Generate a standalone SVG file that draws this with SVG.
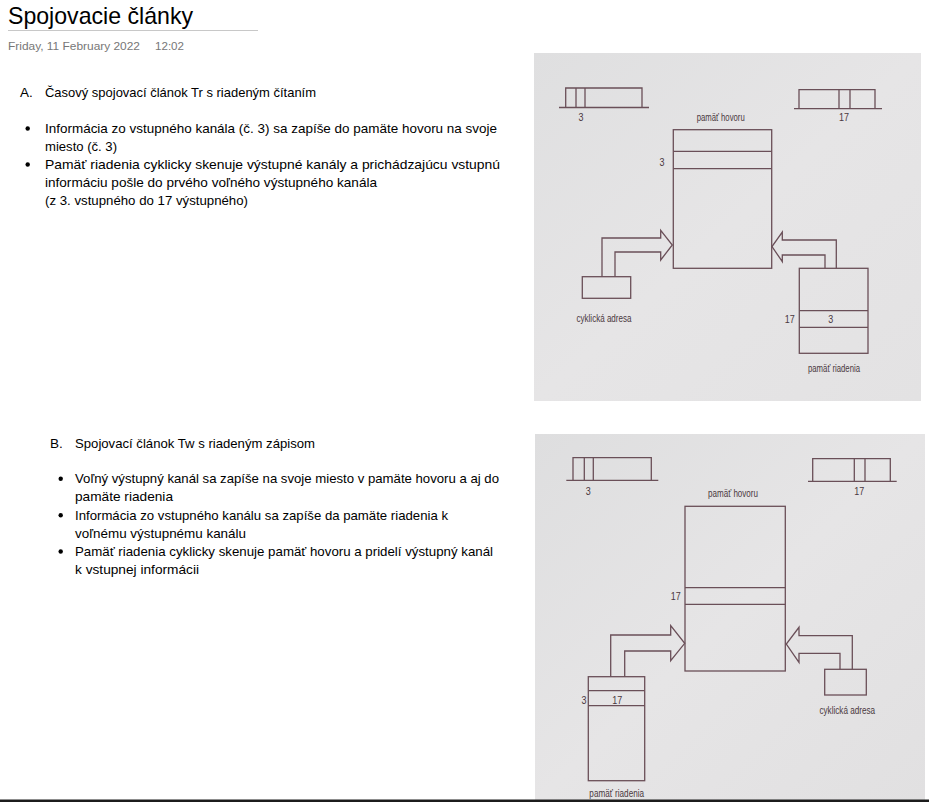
<svg xmlns="http://www.w3.org/2000/svg" width="929" height="802" viewBox="0 0 929 802">
<style>
.t{font-family:"Liberation Sans",Arial,sans-serif;fill:#000;}
.b{font-size:13.5px;}
.d{font-size:10.5px;fill:#777;}
.p{font-family:"Liberation Sans",Arial,sans-serif;font-size:10.5px;fill:#4a3840;text-anchor:middle;}
.ln{fill:none;stroke:#6a4f58;stroke-width:1.3;}
.bul{fill:#000;}
.photo{stroke:none;}
</style>
<defs>
<linearGradient id="gA" x1="0" y1="0" x2="1" y2="1">
<stop offset="0" stop-color="#dfdfe0"/><stop offset="0.5" stop-color="#e6e5e6"/><stop offset="1" stop-color="#e3e2e3"/>
</linearGradient>
<linearGradient id="gB" x1="0" y1="0" x2="1" y2="1">
<stop offset="0" stop-color="#dededf"/><stop offset="0.5" stop-color="#e6e5e6"/><stop offset="1" stop-color="#e1e0e1"/>
</linearGradient>
</defs>
<rect width="929" height="802" fill="#fff"/>

<g id="header">
<text class="t" x="8" y="24" font-size="24" textLength="185" lengthAdjust="spacingAndGlyphs">Spojovacie články</text>
<line x1="8" y1="30.5" x2="258" y2="30.5" stroke="#c8c8c8" stroke-width="1"/>
<text class="t d" x="8" y="50" textLength="132" lengthAdjust="spacingAndGlyphs">Friday, 11 February 2022</text>
<text class="t d" x="155" y="50" textLength="29" lengthAdjust="spacingAndGlyphs">12:02</text>
</g>

<g id="textA">
<text class="t b" x="20" y="96.5">A.</text>
<text class="t b" x="45" y="96.5" textLength="271" lengthAdjust="spacingAndGlyphs">Časový spojovací článok Tr s riadeným čítaním</text>
<circle class="bul" cx="27.7" cy="128.5" r="2.2"/>
<text class="t b" x="45" y="133" textLength="452" lengthAdjust="spacingAndGlyphs">Informácia zo vstupného kanála (č. 3) sa zapíše do pamäte hovoru na svoje</text>
<text class="t b" x="45" y="151" textLength="72" lengthAdjust="spacingAndGlyphs">miesto (č. 3)</text>
<circle class="bul" cx="27.7" cy="164.5" r="2.2"/>
<text class="t b" x="45" y="169" textLength="455" lengthAdjust="spacingAndGlyphs">Pamäť riadenia cyklicky skenuje výstupné kanály a prichádzajúcu vstupnú</text>
<text class="t b" x="45" y="187" textLength="332" lengthAdjust="spacingAndGlyphs">informáciu pošle do prvého voľného výstupného  kanála</text>
<text class="t b" x="45" y="205" textLength="203" lengthAdjust="spacingAndGlyphs">(z 3. vstupného do 17 výstupného)</text>
</g>

<g id="textB">
<text class="t b" x="50" y="448">B.</text>
<text class="t b" x="75" y="448" textLength="240" lengthAdjust="spacingAndGlyphs">Spojovací článok Tw s riadeným zápisom</text>
<circle class="bul" cx="60.7" cy="478.8" r="2.2"/>
<text class="t b" x="75" y="483" textLength="424" lengthAdjust="spacingAndGlyphs">Voľný výstupný kanál sa zapíše na svoje miesto v pamäte hovoru a aj do</text>
<text class="t b" x="75" y="501" textLength="98" lengthAdjust="spacingAndGlyphs">pamäte riadenia</text>
<circle class="bul" cx="60.7" cy="515.3" r="2.2"/>
<text class="t b" x="75" y="519.5" textLength="373" lengthAdjust="spacingAndGlyphs">Informácia zo vstupného kanálu sa zapíše da pamäte riadenia k</text>
<text class="t b" x="75" y="537.5" textLength="171" lengthAdjust="spacingAndGlyphs">voľnému výstupnému kanálu</text>
<circle class="bul" cx="60.7" cy="551.5" r="2.2"/>
<text class="t b" x="75" y="556" textLength="418" lengthAdjust="spacingAndGlyphs">Pamäť riadenia cyklicky skenuje pamäť hovoru a pridelí výstupný kanál</text>
<text class="t b" x="75" y="574" textLength="124" lengthAdjust="spacingAndGlyphs">k vstupnej informácii</text>
</g>

<!-- Photo A -->
<rect class="photo" x="534" y="53" width="387" height="348" fill="url(#gA)"/>
<g id="A-inputRegister">
<polyline class="ln" points="565.7,107.5 565.7,88 642,88 642,107.5"/>
<line class="ln" x1="559" y1="107.5" x2="649" y2="107.5"/>
<line class="ln" x1="576" y1="88" x2="576" y2="107.5"/>
<line class="ln" x1="585" y1="88" x2="585" y2="107.5"/>
<text class="p" x="581" y="121" textLength="5" lengthAdjust="spacingAndGlyphs">3</text>
</g>
<g id="A-outputRegister">
<polyline class="ln" points="799,108.7 799,89.7 875,89.7 875,108.7"/>
<line class="ln" x1="794" y1="108.7" x2="882" y2="108.7"/>
<line class="ln" x1="839" y1="89.7" x2="839" y2="108.7"/>
<line class="ln" x1="850" y1="89.7" x2="850" y2="108.7"/>
<text class="p" x="844" y="121" textLength="10" lengthAdjust="spacingAndGlyphs">17</text>
</g>
<g id="A-pamatHovoru">
<text class="p" x="720.7" y="121" textLength="48" lengthAdjust="spacingAndGlyphs">pamäť hovoru</text>
<rect class="ln" x="673.3" y="129.7" width="98.4" height="138.6"/>
<line class="ln" x1="673.3" y1="151.3" x2="771.7" y2="151.3"/>
<line class="ln" x1="673.3" y1="168.7" x2="771.7" y2="168.7"/>
<text class="p" x="662" y="165.5" textLength="5" lengthAdjust="spacingAndGlyphs">3</text>
</g>
<g id="A-cyklickaAdresa">
<rect class="ln" x="582.3" y="276.7" width="48.4" height="21.6"/>
<text class="p" x="604" y="321.5" textLength="55" lengthAdjust="spacingAndGlyphs">cyklická adresa</text>
</g>
<g id="A-pamatRiadenia">
<rect class="ln" x="799.3" y="268.3" width="68.7" height="85"/>
<line class="ln" x1="799.3" y1="310.7" x2="868" y2="310.7"/>
<line class="ln" x1="799.3" y1="327.3" x2="868" y2="327.3"/>
<text class="p" x="789.7" y="322.5" textLength="10" lengthAdjust="spacingAndGlyphs">17</text>
<text class="p" x="830.7" y="322.5" textLength="5" lengthAdjust="spacingAndGlyphs">3</text>
<text class="p" x="834" y="372" textLength="52" lengthAdjust="spacingAndGlyphs">pamäť riadenia</text>
</g>

<!-- Photo B -->
<rect class="photo" x="535" y="434" width="390" height="368" fill="url(#gB)"/>
<g id="B-inputRegister">
<polyline class="ln" points="573,480.3 573,457.7 651.3,457.7 651.3,480.3"/>
<line class="ln" x1="566.3" y1="480.3" x2="658.3" y2="480.3"/>
<line class="ln" x1="584.3" y1="457.7" x2="584.3" y2="480.3"/>
<line class="ln" x1="593.3" y1="457.7" x2="593.3" y2="480.3"/>
<text class="p" x="588.3" y="495" textLength="5" lengthAdjust="spacingAndGlyphs">3</text>
</g>
<g id="B-outputRegister">
<polyline class="ln" points="812.7,481.3 812.7,458.7 890.3,458.7 890.3,481.3"/>
<line class="ln" x1="808" y1="481.3" x2="896.7" y2="481.3"/>
<line class="ln" x1="854.3" y1="458.7" x2="854.3" y2="481.3"/>
<line class="ln" x1="865" y1="458.7" x2="865" y2="481.3"/>
<text class="p" x="859.3" y="495" textLength="10" lengthAdjust="spacingAndGlyphs">17</text>
</g>
<g id="B-pamatHovoru">
<text class="p" x="733" y="497" textLength="50" lengthAdjust="spacingAndGlyphs">pamäť hovoru</text>
<rect class="ln" x="685" y="506.3" width="100.3" height="164.7"/>
<line class="ln" x1="685" y1="587.7" x2="785.3" y2="587.7"/>
<line class="ln" x1="685" y1="604.3" x2="785.3" y2="604.3"/>
<text class="p" x="675.7" y="600" textLength="10" lengthAdjust="spacingAndGlyphs">17</text>
</g>
<g id="B-pamatRiadenia">
<rect class="ln" x="588.3" y="676.7" width="56.4" height="104"/>
<line class="ln" x1="588.3" y1="690.7" x2="644.7" y2="690.7"/>
<line class="ln" x1="588.3" y1="705.7" x2="644.7" y2="705.7"/>
<text class="p" x="584" y="703.5" textLength="5" lengthAdjust="spacingAndGlyphs">3</text>
<text class="p" x="617.3" y="703.5" textLength="10" lengthAdjust="spacingAndGlyphs">17</text>
<text class="p" x="616.7" y="797" textLength="54.7" lengthAdjust="spacingAndGlyphs">pamäť riadenia</text>
</g>
<g id="B-cyklickaAdresa">
<rect class="ln" x="824.7" y="669.3" width="41.6" height="25.7"/>
<text class="p" x="847.3" y="714" textLength="55.7" lengthAdjust="spacingAndGlyphs">cyklická adresa</text>
</g>

<g id="connectors">
<polyline class="ln" points="602,276.7 602,238 660.7,238 660.7,230.3 672.3,245 660.7,260 660.7,252 615,252 615,276.7"/>
<polyline class="ln" points="836.3,268.3 836.3,240 782.3,240 782.3,232 772,246.5 782.3,261.7 782.3,255 825,255 825,268.3"/>
<polyline class="ln" points="610.7,676.7 610.7,635 670.7,635 670.7,625.7 684.7,643.3 670.7,660.7 670.7,651 624.7,651 624.7,676.7"/>
<polyline class="ln" points="852.3,669.3 852.3,635.7 799,635.7 799,627.3 786.3,644 799,662.3 799,653.3 840,653.3 840,669.3"/>
</g>

<rect x="0" y="799.5" width="929" height="2.5" fill="#1c1c1c"/>
</svg>
